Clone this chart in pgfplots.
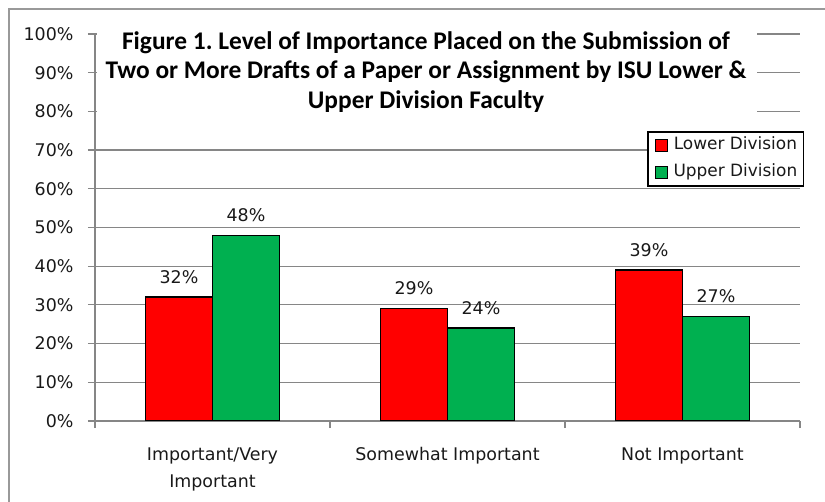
\documentclass[border=0pt]{standalone}
\usepackage{pgfplots}
\pgfplotsset{compat=1.18}
\usepackage{fontspec}
\setmainfont{DejaVu Sans}
\newfontfamily\titlefont{Carlito}
\definecolor{barred}{RGB}{255,0,0}
\definecolor{bargreen}{RGB}{0,176,80}
\definecolor{gridgray}{RGB}{134,134,134}
\definecolor{txt}{RGB}{25,25,25}
\begin{document}
\begin{tikzpicture}
\path[use as bounding box] (0bp,0bp) rectangle (825bp,502bp);
\draw[gray!80, line width=1.2bp] (9bp,0bp) -- (9bp,493bp) -- (825bp,493bp);
\begin{axis}[
  at={(95bp,81bp)}, anchor=south west,
  width=705bp, height=387bp, scale only axis,
  ybar,
  ymin=0, ymax=100, ytick={0,10,...,100},
  xmin=0.5, xmax=3.5,
  xtick={0.5,1.5,2.5,3.5}, xticklabels={},
  extra x ticks={1,2,3},
  extra x tick labels={{Important/Very\\Important},{Somewhat Important},{Not Important}},
  extra x tick style={major tick length=0pt, grid=none},
  axis x line*=bottom, axis y line*=left,
  axis line style={gridgray, line width=1.2bp, -},
  ymajorgrids, grid style={gridgray, line width=1.2bp},
  tick align=outside,
  major tick length=7bp,
  tick style={gridgray, line width=1.2bp},
  /pgf/number format/assume math mode=true,
  yticklabel={\pgfmathprintnumber{\tick}\%},
  y tick label style={font=\fontsize{17.5}{20}\selectfont, text=txt, xshift=-11bp},
  x tick label style={font=\fontsize{17.5}{27}\selectfont, text=txt, align=center, yshift=-23bp},
  bar width=0.285,
  nodes near coords={\pgfmathprintnumber{\pgfplotspointmeta}\%},
  nodes near coords style={font=\fontsize{17.5}{20}\selectfont, text=txt, anchor=base, yshift=14bp, inner sep=0pt},
  legend image code/.code={\path[draw=none,fill=none] (-7bp,0) -- (12bp,0); \draw[#1, draw=black, line width=1bp] (0bp,-6bp) rectangle (12bp,6bp);},
  legend style={at={(1.0057,0.749)}, anchor=north east, draw=black, line width=1.5bp, fill=white,
    inner sep=0pt, font=\fontsize{17}{20}\selectfont,
    nodes={text height=13bp, text depth=4bp, inner ysep=5bp, inner xsep=6bp, text=txt}},
]
\addplot[fill=barred, draw=black, line width=1.4bp, bar shift=-0.1425] coordinates {(1,32) (2,29) (3,39)};
\addplot[fill=bargreen, draw=black, line width=1.4bp, bar shift=0.1425] coordinates {(1,48) (2,24) (3,27)};
\legend{Lower Division, Upper Division}
\end{axis}
\fill[white] (96.5bp,385bp) rectangle (757bp,476bp);
\node[align=center, font=\titlefont\bfseries\fontsize{25.5}{29.5}\selectfont, text=black] at (426bp,430bp) {Figure 1.\ Level of Importance Placed on the Submission of\\Two or More Drafts of a Paper or Assignment by ISU Lower \&\\Upper Division Faculty};
\end{tikzpicture}
\end{document}
